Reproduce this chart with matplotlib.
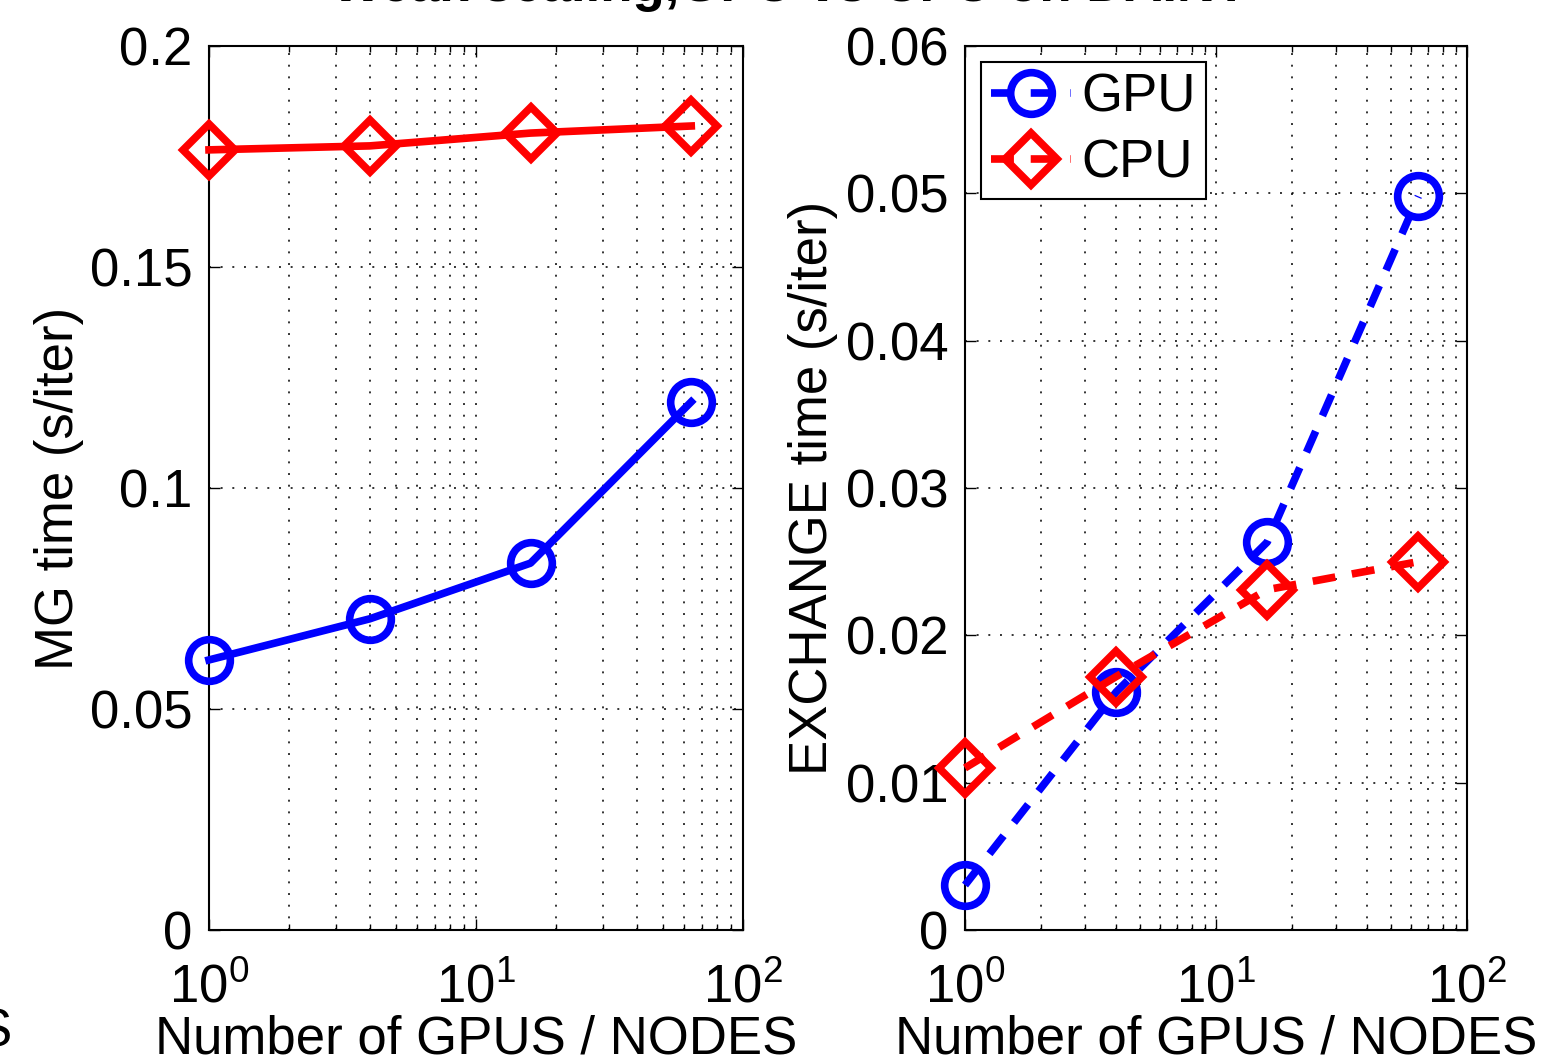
import numpy as np
import matplotlib
matplotlib.use('Agg')
from matplotlib import pyplot as plt
from matplotlib.ticker import LogLocator, NullFormatter

nodes = [1, 4, 16, 64]
mg_gpu = [0.0611, 0.0704, 0.0830, 0.1195]
mg_cpu = [0.1765, 0.1774, 0.1803, 0.1819]
ex_gpu = [0.00305, 0.01615, 0.02633, 0.0498]
ex_cpu = [0.0110, 0.0172, 0.0231, 0.0250]

plt.rcParams['font.family'] = ['Liberation Sans', 'DejaVu Sans']
plt.rcParams['mathtext.default'] = 'regular'
fs = 38

fig = plt.figure(figsize=(15.55, 10.63), dpi=100)
W, H = 1555.0, 1063.0
ax1 = fig.add_axes([209/W, 1-930/H, (743-209)/W, (930-46)/H])
ax2 = fig.add_axes([965/W, 1-930/H, (1467-965)/W, (930-46)/H])

gridls = (0, (1, 5))

def style(ax, ymax, ystep):
    ax.set_xscale('log')
    ax.set_xlim(1, 100)
    ax.set_ylim(0, ymax)
    ax.set_yticks(np.arange(0, ymax + ystep/2, ystep))
    ax.xaxis.set_minor_locator(LogLocator(base=10, subs=np.arange(2, 10)))
    ax.xaxis.set_minor_formatter(NullFormatter())
    ax.grid(True, which='major', axis='both', linestyle=gridls, color='k', linewidth=1.4, alpha=0.8)
    ax.grid(True, which='minor', axis='x', linestyle=gridls, color='k', linewidth=1.4, alpha=0.8)
    ax.tick_params(which='both', direction='in', top=True, right=True, labelsize=fs)
    ax.tick_params(which='major', length=8, width=1)
    ax.tick_params(which='minor', length=4, width=1)
    ax.tick_params(axis='y', pad=12)
    ax.tick_params(axis='x', pad=24)
    for s in ax.spines.values():
        s.set_linewidth(1.5)

mk = dict(markersize=30, markeredgewidth=5.5, markerfacecolor='none', linewidth=5.5, clip_on=False, zorder=5)
dk = dict(mk, markersize=26)

ax1.plot(nodes, mg_gpu, '-o', color='b', markeredgecolor='b', **mk)
ax1.plot(nodes, mg_cpu, '-D', color='r', markeredgecolor='r', **dk)
style(ax1, 0.2, 0.05)
ax1.set_yticklabels(['0', '0.05', '0.1', '0.15', '0.2'])
ax1.set_ylabel('MG time (s/iter)', fontsize=fs)
ax1.yaxis.set_label_coords((84 - 209) / 534.0, 0.5)
ax1.set_xlabel('Number of GPUS / NODES', fontsize=fs, labelpad=1)

ax2.plot(nodes, ex_gpu, '--o', color='b', markeredgecolor='b', label='GPU', dashes=(3, 2.2), **mk)
ax2.plot(nodes, ex_cpu, '--D', color='r', markeredgecolor='r', label='CPU', dashes=(3, 2.2), **dk)
style(ax2, 0.06, 0.01)
ax2.set_yticklabels(['0', '0.01', '0.02', '0.03', '0.04', '0.05', '0.06'])
ax2.set_ylabel('EXCHANGE time (s/iter)', fontsize=fs)
ax2.yaxis.set_label_coords((838 - 965) / 502.0, 0.5)
ax2.set_xlabel('Number of GPUS / NODES', fontsize=fs, labelpad=1)
leg = ax2.legend(loc='upper left', fontsize=fs, fancybox=False, framealpha=1,
                 edgecolor='k', handlelength=1.5, handletextpad=0.2,
                 borderpad=0.2, labelspacing=0.3, borderaxespad=0.3,
                 markerscale=1.0)
leg.get_frame().set_linewidth(1.5)

fig.text(790/W, 1 + 0.012, 'Weak scaling,GPU vs CPU on DAINT', fontsize=fs,
         fontweight='bold', ha='center', va='center')
fig.text(12/W, 1-1032/H, 'Number of GPUS / NODES', fontsize=fs, ha='right', va='center')

fig.savefig('out.png', dpi=100)
